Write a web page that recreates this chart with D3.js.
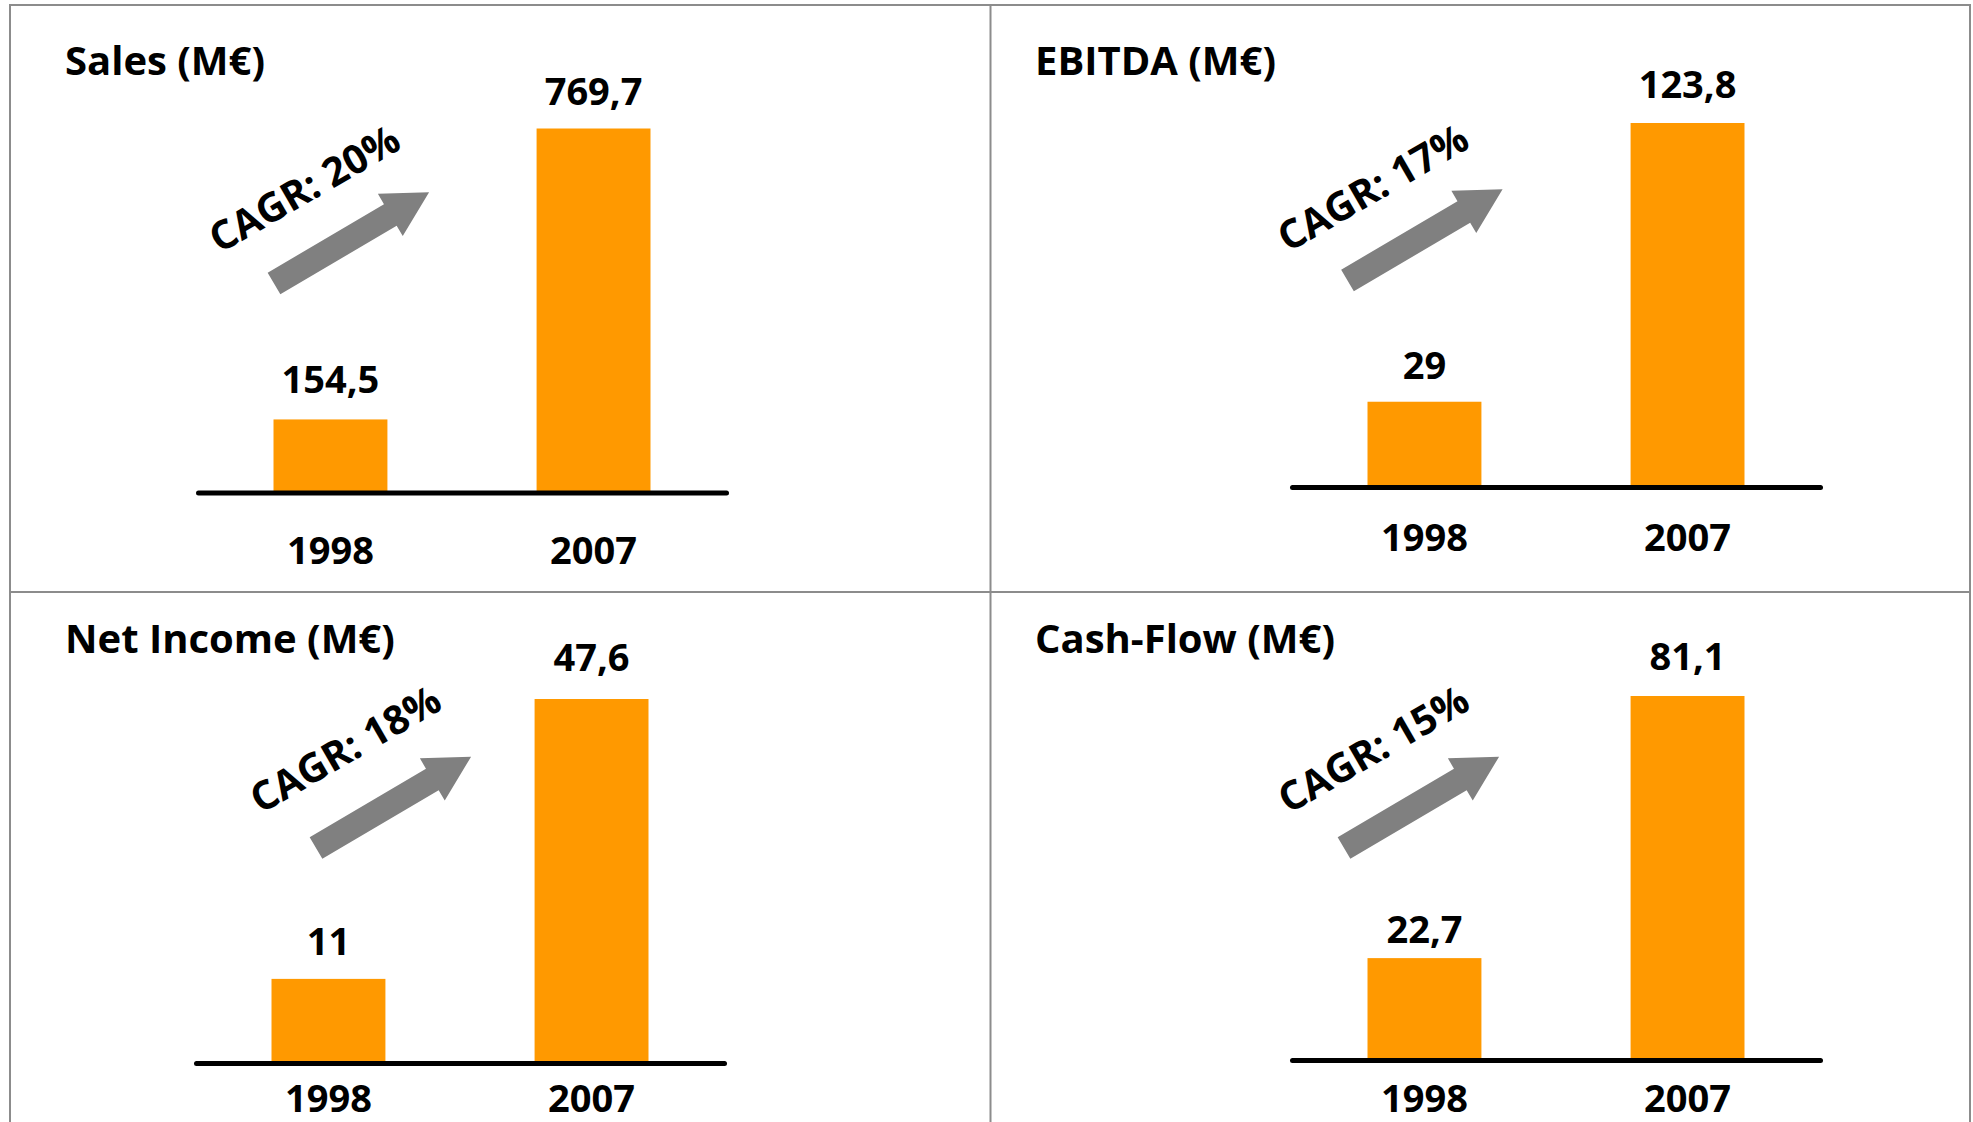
<!DOCTYPE html>
<html lang="en">
<head>
  <meta charset="UTF-8">
  <title>Key figures 1998 - 2007</title>
  <style>
    body {
      margin: 0;
      background: #fff;
    }
    svg text {
      font-family: 'Open Sans', sans-serif;
      font-weight: 700;
      fill: #000;
    }
    .grid {
      stroke: #8c8c8c;
      stroke-width: 2;
      fill: none;
    }
    .bar {
      fill: #ff9900;
    }
    .axis path {
      stroke: #000;
      stroke-width: 5;
      stroke-linecap: round;
    }
    .arrow {
      fill: #808080;
    }
  </style>
</head>
<body>
  <script src="https://cdn.jsdelivr.net/npm/d3@7"></script>
  <script>
    // chart data
    const years = ['1998', '2007'];
    const titles = ['Sales (M€)', 'EBITDA (M€)', 'Net Income (M€)', 'Cash-Flow (M€)'];
    const salesValues = [154.5, 769.7];
    const ebitdaValues = [29, 123.8];
    const netIncomeValues = [11, 47.6];
    const cashFlowValues = [22.7, 81.1];
    const cagrLabels = ['CAGR: 20%', 'CAGR: 17%', 'CAGR: 18%', 'CAGR: 15%'];

    const seriesList = [salesValues, ebitdaValues, netIncomeValues, cashFlowValues];

    // layout of the four panels (relative to panel corner)
    const panels = [
      {x: 10,  y: 5,   chartX: 188, axisY: 487.5, titleX: 55, titleY: 70,   arrow: [264, 278.5], text: [32, -92], catGap: 71, valGap: [26, 24]},
      {x: 990, y: 5,   chartX: 302, axisY: 482,   titleX: 45, titleY: 69.5, arrow: [357.5, 275.5], text: [27, -90], catGap: 64, valGap: [23, 25]},
      {x: 10,  y: 592, chartX: 186, axisY: 471,   titleX: 55, titleY: 60.5, arrow: [306, 256], text: [31, -96], catGap: 49, valGap: [24, 28]},
      {x: 990, y: 592, chartX: 302, axisY: 468,   titleX: 45, titleY: 60.5, arrow: [354, 256], text: [31, -96], catGap: 52, valGap: [15, 26]}
    ];

    const SVGWIDTH = 1973;
    const SVGHEIGHT = 1122;
    const AXISLENGTH = 528;
    const MAXBAR = 364;
    const fmt = d => String(d).replace('.', ',');

    const svg = d3.select('body')
      .append('svg')
        .attr('width', SVGWIDTH)
        .attr('height', SVGHEIGHT);

    // table grid
    const grid = svg.append('g').attr('class', 'grid');
    grid.append('rect').attr('x', 10).attr('y', 5).attr('width', 1960).attr('height', 1140);
    grid.append('line').attr('x1', 990.5).attr('x2', 990.5).attr('y1', 5).attr('y2', SVGHEIGHT + 10);
    grid.append('line').attr('x1', 10).attr('x2', 1970).attr('y1', 592).attr('y2', 592);

    // arrow shape, pointing along +x, tail centre at origin
    const arrowPts = [[0, -12.5], [135, -12.5], [135, -24.5], [180, 0], [135, 24.5], [135, 12.5], [0, 12.5]];
    const arrowPath = d3.line()(arrowPts) + 'Z';

    function drawPanel (p, i) {
      const values = seriesList[i];
      const data = years.map((y, k) => ({year: y, value: values[k]}));

      const g = svg.append('g').attr('transform', `translate(${p.x},${p.y})`);

      const scaleX = d3.scaleBand()
        .domain(years)
        .range([p.chartX, p.chartX + AXISLENGTH])
        .paddingInner(0.567)
        .paddingOuter(0.287);
      const scaleY = d3.scaleLinear()
        .domain([0, d3.max(values)])
        .range([p.axisY, p.axisY - MAXBAR]);

      g.append('text')
        .attr('x', p.titleX)
        .attr('y', p.titleY)
        .style('font-size', '40px')
        .text(titles[i]);

      g.selectAll('rect.bar')
        .data(data)
        .enter()
        .append('rect')
          .attr('class', 'bar')
          .attr('x', d => scaleX(d.year))
          .attr('y', d => scaleY(d.value))
          .attr('width', scaleX.bandwidth())
          .attr('height', d => p.axisY - scaleY(d.value));

      g.selectAll('text.value')
        .data(data)
        .enter()
        .append('text')
          .attr('class', 'value')
          .attr('text-anchor', 'middle')
          .attr('x', d => scaleX(d.year) + scaleX.bandwidth() / 2)
          .attr('y', (d, k) => scaleY(d.value) - p.valGap[k])
          .style('font-size', '38px')
          .text(d => fmt(d.value));

      // baseline + year labels
      const xAxis = d3.axisBottom(scaleX).tickSize(0).tickSizeOuter(0);
      const axisG = g.append('g')
        .attr('class', 'axis')
        .attr('transform', `translate(0,${p.axisY})`)
        .call(xAxis);
      axisG.selectAll('.tick text')
        .attr('y', p.catGap)
        .attr('dy', null)
        .attr('fill', '#000')
        .style('font-size', '38px');
      axisG.attr('font-family', null).attr('font-size', null);

      // growth arrow
      g.append('path')
        .attr('class', 'arrow')
        .attr('d', arrowPath)
        .attr('transform', `translate(${p.arrow[0]},${p.arrow[1]}) rotate(-30.5)`);

      g.append('text')
        .attr('text-anchor', 'middle')
        .attr('dy', '0.27em')
        .attr('transform', `translate(${p.arrow[0] + p.text[0]},${p.arrow[1] + p.text[1]}) rotate(-30)`)
        .style('font-size', '40px')
        .text(cagrLabels[i]);
    }

    panels.forEach(drawPanel);
  </script>
</body>
</html>
